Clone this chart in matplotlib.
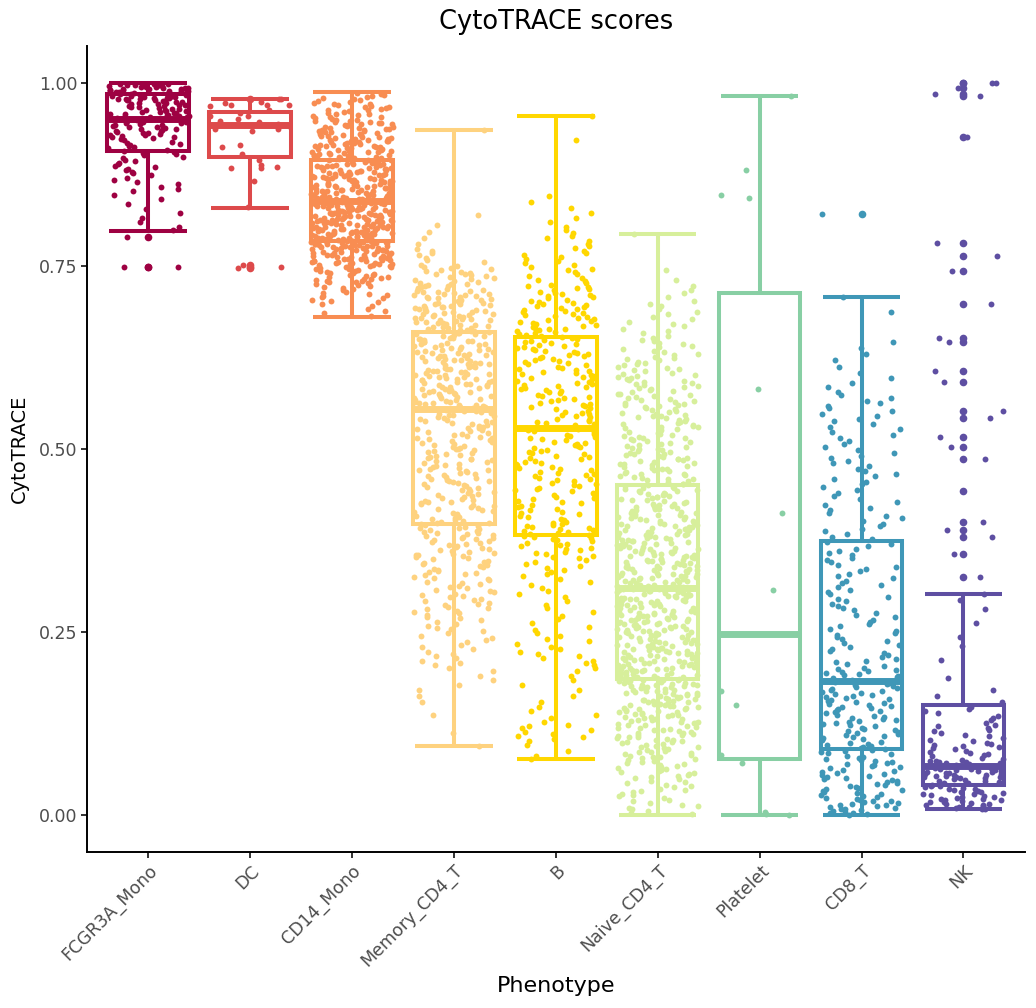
import numpy as np
import matplotlib
matplotlib.use("Agg")
import matplotlib.pyplot as plt

phenotypes = ["FCGR3A_Mono", "DC", "CD14_Mono", "Memory_CD4_T", "B",
              "Naive_CD4_T", "Platelet", "CD8_T", "NK"]
colors = ["#9E0142", "#DD4A4B", "#F88D52", "#FED27F", "#FFD700",
          "#D7EF9B", "#88CFA4", "#3F97B7", "#5E4FA2"]

# box statistics
whislo = [0.797, 0.829, 0.680, 0.0945, 0.0764, 0.000, 0.001, 0.000, 0.008]
q1 = [0.907, 0.899, 0.784, 0.398, 0.383, 0.186, 0.077, 0.091, 0.042]
med = [0.950, 0.942, 0.838, 0.554, 0.528, 0.310, 0.247, 0.184, 0.068]
q3 = [0.984, 0.960, 0.894, 0.659, 0.653, 0.451, 0.713, 0.374, 0.151]
whishi = [0.999, 0.977, 0.987, 0.935, 0.954, 0.794, 0.982, 0.708, 0.302]

# cells per 0.025 wide score bin (bin 0 = 0.000-0.025 ... bin 39 = 0.975-1.000)
counts_fcgr3a = [0] * 31 + [1, 4, 4, 8, 12, 16, 28, 35, 51]
counts_dc = [0] * 40
counts_cd14 = [0] * 27 + [6, 16, 28, 48, 62, 60, 56, 52, 46, 40, 34, 24, 8]
counts_memory = [0] * 4 + [1, 1, 3, 4, 8, 8, 10, 14, 14, 16, 19, 22, 19, 19, 20,
                           20, 20, 21, 28, 29, 30, 30, 30, 32, 30, 20, 8, 3, 2] + [0] * 7
counts_b = [0] * 3 + [3, 10, 5, 3, 4, 8, 7, 5, 5, 6, 9, 14, 18, 13, 14, 15, 15, 16,
                      16, 16, 17, 17, 18, 20, 18, 16, 10, 9, 7, 4, 3] + [0] * 6
counts_naive = [11, 14, 18, 22, 26, 30, 34, 40, 36, 36, 36, 36, 38, 34, 32, 30, 28,
                24, 22, 22, 20, 20, 20, 18, 15, 12, 8, 7, 5, 2] + [0] * 10
counts_platelet = [0] * 40
counts_cd8 = [23, 18, 17, 17, 17, 17, 18, 18, 10, 9, 8, 8, 8, 8, 8, 7, 7, 6, 7, 7,
              6, 7, 7, 4, 3, 3, 0, 1] + [0] * 12
counts_nk = [20, 25, 38, 16, 11, 8, 3, 1, 1, 2, 1, 2] + [0] * 28

# isolated cells read one by one
single_fcgr3a = [0.789, 0.748, 0.748]
single_dc = [0.978, 0.977, 0.973, 0.972, 0.970, 0.970, 0.969, 0.968, 0.962, 0.958,
             0.955, 0.955, 0.950, 0.948, 0.946, 0.943, 0.941, 0.937, 0.937, 0.934,
             0.915, 0.912, 0.903, 0.895, 0.887, 0.885, 0.884, 0.883, 0.866, 0.830,
             0.751, 0.749, 0.747]
single_cd14 = []
single_memory = [0.0945, 0.935]
single_b = [0.0764, 0.922, 0.954]
single_naive = [0.794]
single_platelet = [0.982, 0.881, 0.846, 0.843, 0.582, 0.412, 0.308, 0.169, 0.151,
                   0.083, 0.072, 0.0045, 0.002, 0.001]
single_cd8 = [0.708, 0.820]
single_nk = [0.302, 0.325, 0.356, 0.380, 0.389, 0.401, 0.443, 0.486, 0.502, 0.516,
             0.542, 0.552, 0.592, 0.606, 0.646, 0.651, 0.698, 0.743, 0.763, 0.781,
             0.926, 0.982, 0.985, 0.992, 0.999, 0.999]

all_counts = [counts_fcgr3a, counts_dc, counts_cd14, counts_memory, counts_b,
              counts_naive, counts_platelet, counts_cd8, counts_nk]
all_single = [single_fcgr3a, single_dc, single_cd14, single_memory, single_b,
              single_naive, single_platelet, single_cd8, single_nk]


def jitter(k, g):
    # deterministic scatter in [-0.5, 0.5) for the horizontal jitter
    return (np.sin(k * 12.9898 + g * 78.233 + 1.7) * 43758.5453) % 1 - 0.5


def cells(counts, single, lo_clip, hi_clip, g):
    # cells of each bin evenly over the bin, then the single cells
    ys = []
    for i, n in enumerate(counts):
        lo = max(i * 0.025, lo_clip)
        hi = min((i + 1) * 0.025, hi_clip)
        for j in range(n):
            ys.append(lo + (hi - lo) * (j + 0.5) / n)
    ys = np.array(ys + list(single))
    xs = np.array([jitter(k, g) for k in range(len(ys))])
    return xs, ys


fig = plt.figure(figsize=(10.36, 10.08), dpi=100)
ax = fig.add_axes([0.084, 0.1548, 0.905, 0.7996])

positions = np.arange(1, len(phenotypes) + 1)
stats = []
groups = []
for i in range(len(phenotypes)):
    xj, ys = cells(all_counts[i], all_single[i], whislo[i], whishi[i], i)
    groups.append((xj, ys))
    fl = ys[(ys < whislo[i] - 1e-9) | (ys > whishi[i] + 1e-9)]
    stats.append(dict(whislo=whislo[i], q1=q1[i], med=med[i], q3=q3[i],
                      whishi=whishi[i], fliers=fl))

bp = ax.bxp(stats, positions=positions, widths=0.8, capwidths=0.76,
            patch_artist=True, showfliers=True, zorder=2)
for i, c in enumerate(colors):
    bp["boxes"][i].set(facecolor="white", edgecolor=c, linewidth=2.9)
    bp["medians"][i].set(color=c, linewidth=5.0, solid_capstyle="butt")
    for ln in bp["whiskers"][2 * i:2 * i + 2] + bp["caps"][2 * i:2 * i + 2]:
        ln.set(color=c, linewidth=2.9, solid_capstyle="butt")
    bp["fliers"][i].set(marker="o", markerfacecolor=c, markeredgewidth=0,
                        markersize=5.5, zorder=3)

for i, (xj, ys) in enumerate(groups):
    ax.scatter(positions[i] + xj * 0.8, ys, s=18, color=colors[i],
               linewidths=0, zorder=4)

ax.set_xlim(0.4, 9.6)
ax.set_ylim(-0.05, 1.05)
ax.set_yticks([0, 0.25, 0.5, 0.75, 1.0])
ax.set_yticklabels(["0.00", "0.25", "0.50", "0.75", "1.00"])
ax.set_xticks(positions)
ax.set_xticklabels(phenotypes, rotation=45, ha="right", rotation_mode="anchor")

for s in ["top", "right"]:
    ax.spines[s].set_visible(False)
for s in ["left", "bottom"]:
    ax.spines[s].set_linewidth(1.4)
ax.tick_params(length=4, width=1.4, color="#333333", labelcolor="#4D4D4D",
               labelsize=12.5, pad=3)

ax.set_xlabel("Phenotype", fontsize=16, labelpad=4)
ax.set_ylabel("CytoTRACE", fontsize=14, labelpad=7)
ax.set_title("CytoTRACE scores", fontsize=18.5, pad=12)

fig.savefig("out.png", dpi=100)
